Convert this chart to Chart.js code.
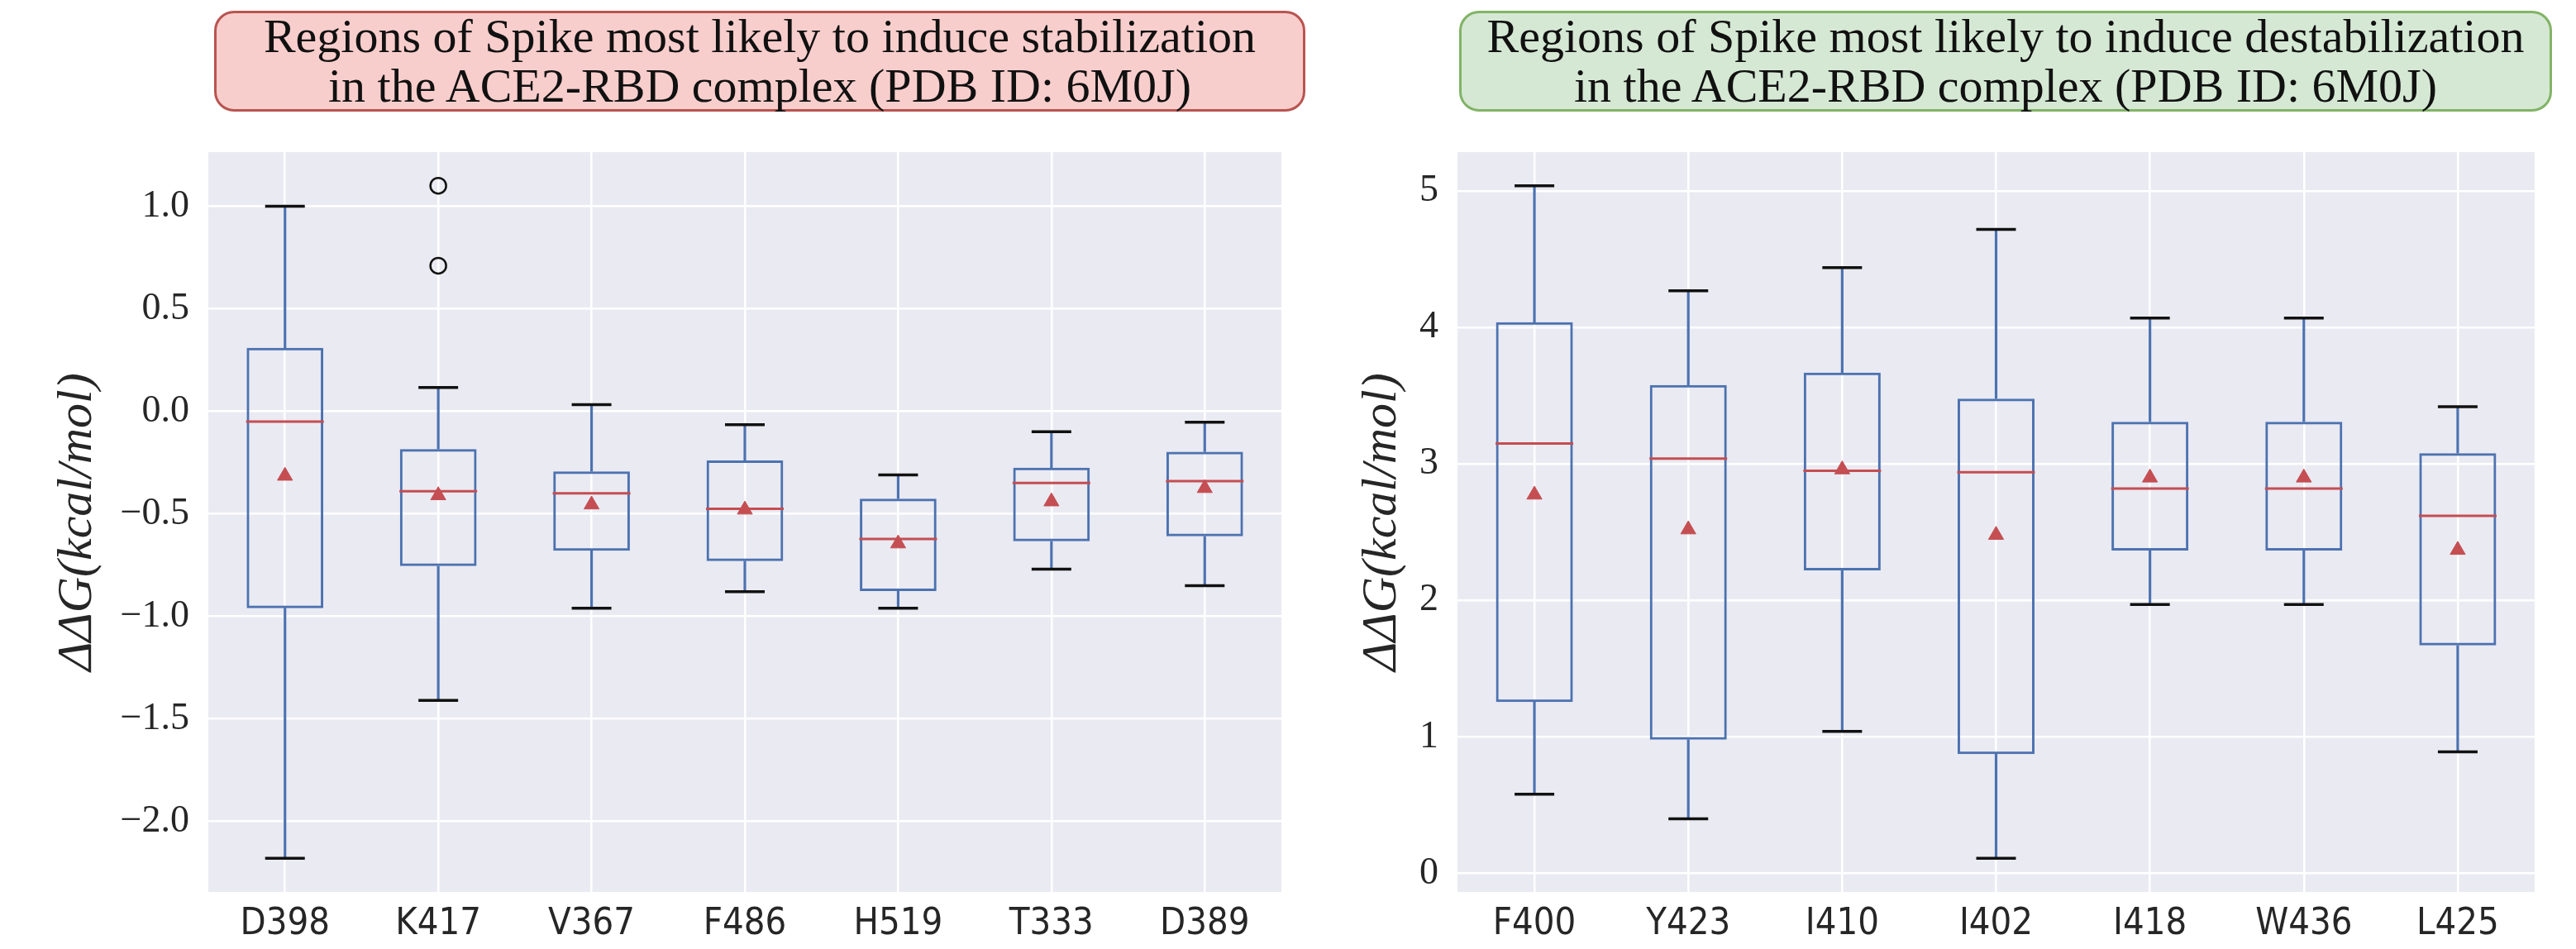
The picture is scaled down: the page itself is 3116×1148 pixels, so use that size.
<!DOCTYPE html>
<html>
<head>
<meta charset="utf-8">
<title>Spike RBD box plots</title>
<script src="https://cdn.jsdelivr.net/npm/chart.js@4.4.1/dist/chart.umd.min.js"></script>
<style>
    html, body { margin: 0; padding: 0; background: #fff; width: 3116px; height: 1148px; overflow: hidden; }
    canvas { position: absolute; top: 0; }
    #stabChart { left: 0; }
    #destabChart { left: 1600px; }
    .titlebox {
        position: absolute; top: 13px; height: 122px; box-sizing: border-box;
        border: 3px solid; border-radius: 24px;
        font-family: 'Liberation Serif', serif; font-size: 58px; line-height: 60px; color: #111;
        text-align: center; display: flex; flex-direction: column; justify-content: center;
    }
    #titleStab { left: 259px; width: 1320px; background: #F8CECC; border-color: #B85450; }
    #titleDestab { left: 1765px; width: 1322px; background: #D5E8D4; border-color: #82B366; }
</style>
</head>
<body>
<canvas id="stabChart" width="1600" height="1148"></canvas>
<canvas id="destabChart" width="1516" height="1148"></canvas>
<div class="titlebox" id="titleStab"><div>Regions of Spike most likely to induce stabilization</div><div>in the ACE2-RBD complex (PDB ID: 6M0J)</div></div>
<div class="titlebox" id="titleDestab"><div>Regions of Spike most likely to induce destabilization</div><div>in the ACE2-RBD complex (PDB ID: 6M0J)</div></div>
<script>
// Stabilizasyon paneli (sol)
const stabLabels = ['D398', 'K417', 'V367', 'F486', 'H519', 'T333', 'D389'];
const stabMin    = [-2.18, -1.41, -0.96, -0.88, -0.96, -0.77, -0.85];
const stabQ1     = [-0.96, -0.755, -0.68, -0.73, -0.877, -0.634, -0.61];
const stabMedian = [-0.05, -0.39, -0.40, -0.476, -0.623, -0.35, -0.34];
const stabMean   = [-0.315, -0.41, -0.455, -0.48, -0.645, -0.44, -0.375];
const stabQ3     = [0.31, -0.184, -0.293, -0.24, -0.426, -0.275, -0.197];
const stabMax    = [1.0, 0.116, 0.032, -0.065, -0.31, -0.10, -0.053];
const stabOutliers = [{ x: 'K417', y: 1.1 }, { x: 'K417', y: 0.71 }];

// Destabilizasyon paneli (sag)
const destabLabels = ['F400', 'Y423', 'I410', 'I402', 'I418', 'W436', 'L425'];
const destabMin    = [0.58, 0.40, 1.04, 0.11, 1.97, 1.97, 0.89];
const destabQ1     = [1.255, 0.98, 2.22, 0.874, 2.366, 2.366, 1.67];
const destabMedian = [3.15, 3.04, 2.95, 2.94, 2.82, 2.82, 2.62];
const destabMean   = [2.775, 2.52, 2.96, 2.48, 2.90, 2.90, 2.37];
const destabQ3     = [4.04, 3.58, 3.67, 3.48, 3.31, 3.31, 3.08];
const destabMax    = [5.04, 4.27, 4.44, 4.72, 4.07, 4.07, 3.42];
const destabOutliers = [];

const BOX_BLUE = '#4C72B0';
const MED_RED = '#C44E52';
const TEXT_COLOR = '#262626';

// Cizim alaninin arka planini boyar (seaborn darkgrid)
const plotBackground = {
    id: 'plotBackground',
    beforeDraw(chart) {
        const { ctx, chartArea: a } = chart;
        ctx.save();
        ctx.fillStyle = '#EAEAF2';
        ctx.fillRect(a.left, a.top, a.width, a.height);
        ctx.restore();
    }
};

// Eksen sinirlari: veri araligi + %5 pay (matplotlib gibi)
function axisLimits(lows, highs) {
    const lo = Math.min(...lows);
    const hi = Math.max(...highs);
    const pad = (hi - lo) * 0.05;
    return [lo - pad, hi + pad];
}

function pointSet(label, data, style, radius, color, width, fill) {
    return {
        type: 'line', label: label, data: data, showLine: false,
        pointStyle: style, pointRadius: radius,
        pointBorderColor: color, pointBorderWidth: width,
        pointBackgroundColor: fill || color, borderColor: color
    };
}

function createBoxChart(canvasId, s) {
    const ctx = document.getElementById(canvasId);
    const outY = s.outliers.map(o => o.y);
    const [yMin, yMax] = axisLimits(s.min.concat(outY), s.max.concat(outY));

    return new Chart(ctx, {
        type: 'bar',
        data: {
            labels: s.labels,
            datasets: [
                pointSet('mean', s.mean, 'triangle', 10.5, MED_RED, 1),
                pointSet('outliers', s.outliers, 'circle', 9.5, '#111', 2.5, 'rgba(0,0,0,0)'),
                pointSet('median', s.median, 'line', 47, MED_RED, 3),
                pointSet('capTop', s.max, 'line', 24, '#111', 3.5),
                pointSet('capBottom', s.min, 'line', 24, '#111', 3.5),
                {
                    type: 'bar', label: 'box',
                    data: s.q1.map((v, i) => [v, s.q3[i]]),
                    backgroundColor: 'rgba(0,0,0,0)', borderColor: BOX_BLUE, borderWidth: 3,
                    borderSkipped: false, grouped: false, barPercentage: 0.5, categoryPercentage: 1
                },
                {
                    type: 'bar', label: 'whiskerTop',
                    data: s.q3.map((v, i) => [v, s.max[i]]),
                    backgroundColor: BOX_BLUE, barThickness: 2.5, grouped: false
                },
                {
                    type: 'bar', label: 'whiskerBottom',
                    data: s.min.map((v, i) => [v, s.q1[i]]),
                    backgroundColor: BOX_BLUE, barThickness: 2.5, grouped: false
                }
            ]
        },
        options: {
            responsive: false,
            animation: false,
            devicePixelRatio: 1,
            events: [],
            layout: { padding: { top: 184, bottom: 0, left: 0, right: s.rightPad } },
            plugins: { legend: { display: false }, tooltip: { enabled: false } },
            scales: {
                x: {
                    type: 'category',
                    offset: true,
                    grid: { offset: false, color: '#ffffff', lineWidth: 2.5, drawTicks: false },
                    border: { display: false },
                    ticks: {
                        autoSkip: false, maxRotation: 0, padding: 12, color: TEXT_COLOR,
                        font: { family: "'Liberation Sans Narrow', 'DejaVu Sans Condensed', 'DejaVu Sans'", size: 45 }
                    },
                    afterFit(scale) { scale.height = 69; }
                },
                y: {
                    min: yMin,
                    max: yMax,
                    grid: { color: '#ffffff', lineWidth: 2.5, drawTicks: false },
                    border: { display: false },
                    ticks: {
                        stepSize: s.step, includeBounds: false, padding: 23, color: TEXT_COLOR,
                        font: { family: "'Liberation Serif', serif", size: 46 },
                        callback: v => v.toFixed(s.decimals).replace('-', '\u2212')
                    },
                    title: {
                        display: true, text: '\u0394\u0394G(kcal/mol)', color: TEXT_COLOR,
                        padding: { top: s.titlePad, bottom: 0 },
                        font: { family: "'Liberation Serif', serif", size: 60, style: 'italic' }
                    },
                    afterFit(scale) { scale.width = s.axisWidth; }
                }
            }
        },
        plugins: [plotBackground]
    });
}

createBoxChart('stabChart', {
    labels: stabLabels, min: stabMin, q1: stabQ1, median: stabMedian, mean: stabMean,
    q3: stabQ3, max: stabMax, outliers: stabOutliers,
    step: 0.5, decimals: 1, axisWidth: 252, titlePad: 58, rightPad: 8
});

createBoxChart('destabChart', {
    labels: destabLabels, min: destabMin, q1: destabQ1, median: destabMedian, mean: destabMean,
    q3: destabQ3, max: destabMax, outliers: destabOutliers,
    step: 1, decimals: 0, axisWidth: 163, titlePad: 36, rightPad: 13
});
</script>
</body>
</html>
